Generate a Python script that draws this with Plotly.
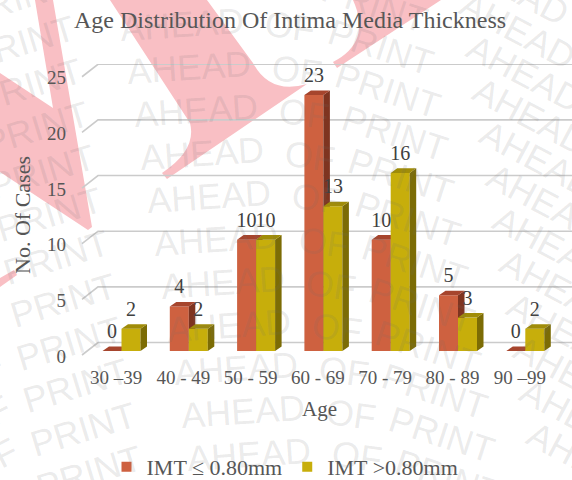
import plotly.graph_objects as go

# ---- data ----
categories = ["30 –39", "40 - 49", "50 - 59", "60 - 69", "70 - 79", "80 - 89", "90 –99"]
imt_low = [0, 4, 10, 23, 10, 5, 0]
imt_high = [2, 2, 10, 13, 16, 3, 2]
y_ticks = [0, 5, 10, 15, 20, 25]
name_low = "IMT ≤ 0.80mm"
name_high = "IMT >0.80mm"
title_text = "Age Distribution Of Intima Media Thickness"

# ---- layout geometry (pixels in a 572x480 page) ----
W, H = 572, 480
ML, MR, MT, MB = 67, 0, 64, 114
PW, PH = W - ML - MR, H - MT - MB
X0, XSTEP = 121.5, 67.3          # px of the bar pair boundary for category 0, px per category
Y0, YSTEP = 351.0, 11.13         # px of the bar baseline, px per case

def dx(px):
    return px / XSTEP

def dy(px):
    return px / YSTEP

def fx(px):
    return (px - ML) / PW

def fy(py):
    return (H - MB - py) / PH

BAR_W = dx(19)
DEPTH_X, DEPTH_Y = dx(6.5), dy(4.6)
LABEL_GAP = dy(18)
xrange_ = [(ML - X0) / XSTEP, (W - MR - X0) / XSTEP]
yrange_ = [(Y0 - (H - MB)) / YSTEP, (Y0 - MT) / YSTEP]

SERIF = "Liberation Serif"
TXT = "#565656"
C_LOW = dict(front="#CE6140", top="#A6452D", side="#7E3420")
C_HIGH = dict(front="#C7AE0B", top="#A08C08", side="#7C6C05")
PINK = "#F9BFC4"
WM = "rgba(110,110,110,0.14)"


def faces(values, x_left):
    top_x, top_y, side_x, side_y = [], [], [], []
    for i, v in enumerate(values):
        l, r = i + x_left, i + x_left + BAR_W
        top_x += [l, r, r + DEPTH_X, l + DEPTH_X, l, None]
        top_y += [v, v, v + DEPTH_Y, v + DEPTH_Y, v, None]
        side_x += [r, r + DEPTH_X, r + DEPTH_X, r, r, None]
        side_y += [0, DEPTH_Y, v + DEPTH_Y, v, 0, None]
    return top_x, top_y, side_x, side_y


def add_series(fig, values, x_left, colors, xa, ya, name):
    idx = list(range(len(values)))
    fig.add_trace(go.Bar(x=idx, y=values, width=BAR_W, offset=x_left, xaxis=xa, yaxis=ya,
                         marker=dict(color=colors["front"], line=dict(width=0)),
                         showlegend=False, name=name, hoverinfo="y"))
    tx, ty, sx, sy = faces(values, x_left)
    for fx_, fy_, c in ((sx, sy, colors["side"]), (tx, ty, colors["top"])):
        fig.add_trace(go.Scatter(x=fx_, y=fy_, mode="lines", fill="toself", fillcolor=c,
                                 line=dict(width=0, color=c), xaxis=xa, yaxis=ya,
                                 showlegend=False, hoverinfo="skip"))
    fig.add_trace(go.Scatter(x=[i + x_left + BAR_W / 2 for i in idx],
                             y=[v + LABEL_GAP for v in values],
                             text=[str(v) for v in values], mode="text",
                             textposition="middle center", cliponaxis=False,
                             textfont=dict(family=SERIF, size=20, color="#404040"),
                             xaxis="x3", yaxis="y3", showlegend=False, hoverinfo="skip"))


fig = go.Figure()
add_series(fig, imt_low, -BAR_W, C_LOW, "x", "y", name_low)
add_series(fig, imt_high, 0, C_HIGH, "x2", "y2", name_high)

# legend entries
for nm, col in ((name_low, C_LOW["front"]), (name_high, C_HIGH["front"])):
    fig.add_trace(go.Scatter(x=[None], y=[None], mode="markers", name=nm,
                             marker=dict(symbol="square", size=10, color=col),
                             xaxis="x3", yaxis="y3"))

# ---- background: pink watermark ----
def pth(*parts):
    out = []
    for p in parts:
        cmd, pts = p[0], p[1:]
        out.append(cmd + " ".join(f"{fx(a):.4f},{fy(b):.4f}" for a, b in pts))
    return " ".join(out) + " Z"


pink_paths = [
    pth(("M", (35, 0)), ("L", (53, 108)), ("L", (0, 73)), ("L", (0, 172)), ("L", (88, 230)),
        ("L", (92, 227)), ("L", (53, 0))),
    pth(("M", (0, 278)), ("L", (14, 270)), ("L", (17, 275)), ("L", (0, 287))),
    pth(("M", (110, 0)), ("L", (190, 123)), ("Q", (197, 150), (162, 173)), ("L", (167, 179)),
        ("L", (307, 84)), ("Q", (270, 95), (253, 63)), ("L", (207, 0))),
    pth(("M", (333, 62)), ("Q", (372, 42), (353, 0)), ("L", (441, 0)), ("L", (337, 68))),
]
shapes = [dict(type="path", path=p, xref="paper", yref="paper", fillcolor=PINK,
               line=dict(width=0), layer="below") for p in pink_paths]

# ---- 3-D floor/wall gridlines ----
wall_left = (82 - X0) / XSTEP
wall_back = (98 - X0) / XSTEP
for t in y_ticks:
    shapes.append(dict(type="path", xref="x", yref="y", layer="below",
                       path=f"M{wall_left:.4f},{t - dy(4):.4f} L{wall_back:.4f},{t + dy(8.5):.4f} "
                            f"L{xrange_[1]:.4f},{t + dy(8.5):.4f}",
                       line=dict(color="#CBCBCB", width=1.6)))

# ---- grey repeated text watermark (above marks) ----
annotations = []
ROW_DX, ROW_DY = 6.7, 43.0
columns = [
    ("OF", -61, 115, -27),
    ("PRINT", 29, 85, -17),
    ("AHEAD", 189, 67, -4),
    ("OF", 297, 70, 8),
    ("PRINT", 388, 90, 18),
    ("AHEAD", 538, 159, 28),
]
for k in range(-5, 11):
    for word, cx, cy, ang in columns:
        px, py = cx + ROW_DX * k, cy + ROW_DY * k
        if -60 < px < W + 60 and -20 < py < H + 20:
            annotations.append(dict(text=word, x=fx(px), y=fy(py), xref="paper", yref="paper",
                                    xanchor="center", yanchor="middle", showarrow=False,
                                    textangle=ang, font=dict(family="Liberation Sans", size=36, color=WM)))

ax_font = dict(family=SERIF, size=19, color=TXT)
fig.update_layout(
    width=W, height=H, autosize=False,
    margin=dict(l=ML, r=MR, t=MT, b=MB, pad=0),
    paper_bgcolor="white", plot_bgcolor="rgba(0,0,0,0)",
    barmode="overlay",
    title=dict(text=title_text, x=290 / W, xref="container", xanchor="center",
               y=1 - 20 / H, yref="container", yanchor="middle",
               font=dict(family=SERIF, size=24, color=TXT)),
    xaxis=dict(range=xrange_, tickmode="array", tickvals=[i - dx(5.5) for i in range(len(categories))],
               ticktext=categories, showgrid=False, zeroline=False, showline=False, ticks="",
               tickfont=ax_font, ticklabelstandoff=-2,
               title=dict(text="Age", standoff=14, font=dict(family=SERIF, size=21, color=TXT))),
    yaxis=dict(range=yrange_, tickmode="array", tickvals=[t - dy(5) for t in y_ticks],
               ticktext=[str(t) for t in y_ticks], showgrid=False, zeroline=False, showline=False,
               ticks="", tickfont=ax_font,
               title=dict(text="No. Of Cases", standoff=10, font=dict(family=SERIF, size=22, color=TXT))),
    xaxis2=dict(overlaying="x", matches="x", visible=False),
    yaxis2=dict(overlaying="y", matches="y", visible=False),
    xaxis3=dict(overlaying="x", matches="x", visible=False),
    yaxis3=dict(overlaying="y", matches="y", visible=False),
    legend=dict(orientation="h", xref="container", yref="container", x=285 / W, xanchor="center",
                y=1 - 467 / H, yanchor="middle",
                font=dict(family=SERIF, size=22, color=TXT), bgcolor="rgba(0,0,0,0)"),
    shapes=shapes,
    annotations=annotations,
)
fig.write_html("out.html", config={"displayModeBar": False},
               post_script="document.body.style.margin='0';")
